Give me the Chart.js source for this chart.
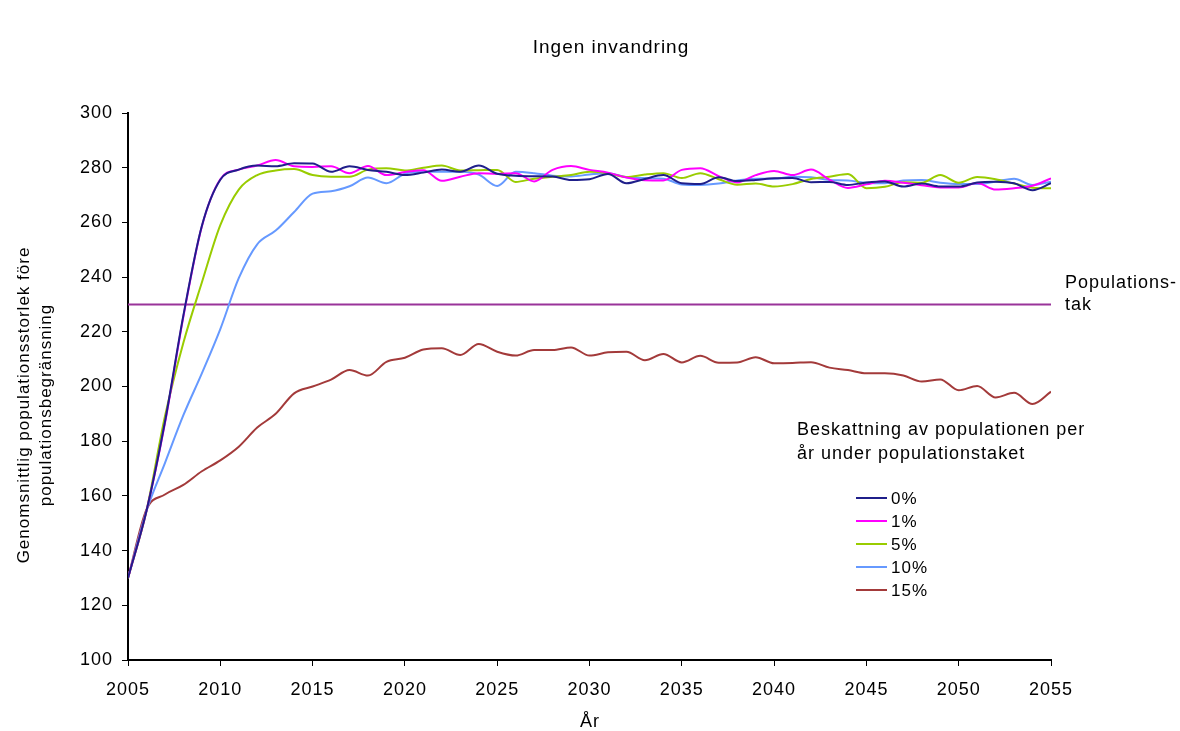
<!DOCTYPE html>
<html>
<head>
<meta charset="utf-8">
<title>Ingen invandring</title>
<script src="https://cdn.jsdelivr.net/npm/chart.js@4/dist/chart.umd.min.js"></script>
<style>
  html, body { margin: 0; padding: 0; background: #fff; }
  #wrap { width: 1180px; height: 731px; position: relative; }
</style>
</head>
<body>
<div id="wrap"><canvas id="chart"></canvas></div>
<script>
// --- data ----------------------------------------------------------------
const years = [2005, 2006, 2007, 2008, 2009, 2010, 2011, 2012, 2013, 2014,
  2015, 2016, 2017, 2018, 2019, 2020, 2021, 2022, 2023, 2024,
  2025, 2026, 2027, 2028, 2029, 2030, 2031, 2032, 2033, 2034,
  2035, 2036, 2037, 2038, 2039, 2040, 2041, 2042, 2043, 2044,
  2045, 2046, 2047, 2048, 2049, 2050, 2051, 2052, 2053, 2054, 2055];

const seriesLabels = ['0%', '1%', '5%', '10%', '15%'];

const harvest0 = [130, 154.5, 187, 226, 258.7, 275.6, 279.3, 280.8, 280.5, 281.6,
  281.5, 278.5, 280.5, 279.2, 278.5, 277.3, 278.2, 279.3, 278.5, 280.8,
  277.8, 277.1, 276.9, 276.8, 275.5, 275.8, 277.7, 274.3, 275.9, 277.3,
  274.3, 274, 276.5, 275.1, 275.5, 276.1, 276.2, 274.7, 274.8, 273.7,
  274.6, 275, 273.1, 274.2, 273.1, 273.1, 274.6, 274.9, 274.3, 271.8, 274.3];

const harvest1 = [130, 154.5, 186.5, 225.5, 258.5, 275.8, 279.3, 280.8, 282.8, 280.5,
  280.3, 280.5, 278, 280.6, 277.3, 278.4, 279.1, 275.2, 276.7, 278,
  277.7, 278, 275, 279.2, 280.6, 279.2, 278.2, 276.4, 275.4, 275.3,
  279.2, 279.8, 276.9, 274.6, 277.3, 278.8, 277.3, 279.3, 275.6, 272.6,
  273.9, 275.2, 274.5, 273.6, 272.8, 272.8, 274.4, 272, 272.5, 273.4, 276.1];

const harvest5 = [130, 154.5, 189, 216, 238, 259, 272, 277.3, 279, 279.5,
  277.3, 276.7, 276.7, 279.3, 279.8, 279, 280, 280.8, 279, 279.1,
  279.2, 274.8, 276, 276.7, 277.3, 278.5, 278, 276.6, 277.5, 278,
  276.2, 278, 275.8, 273.8, 274.2, 273.1, 274, 275.9, 276.7, 277.7,
  272.5, 273, 274.7, 274.5, 277.3, 274.5, 276.6, 275.8, 274.2, 272.7, 272.5];

const harvest10 = [130, 154.5, 172, 189.5, 204.8, 221, 239.6, 252, 257, 263.8,
  270.5, 271.4, 273.2, 276.4, 274.3, 277.8, 278.5, 278.5, 278.5, 277.5,
  273.3, 278.5, 278, 277.1, 276.8, 277.5, 278, 276.5, 276.2, 276,
  273.9, 273.7, 274.2, 275.3, 276, 276, 276.7, 276.5, 275.5, 275.3,
  274.5, 274.3, 275.3, 275.5, 274.5, 274, 274, 274.9, 276, 273.7, 274.9];

const harvest15 = [130, 155, 160.5, 164, 169, 173, 178, 185, 190, 197.5,
  200, 202.5, 206, 204, 209, 210.5, 213.5, 214, 211.5, 215.5,
  212.7, 211.3, 213.3, 213.3, 214.3, 211.3, 212.5, 212.7, 209.6, 211.9,
  208.8, 211.2, 208.7, 208.8, 210.7, 208.5, 208.6, 208.9, 206.9, 206,
  204.8, 204.8, 204, 201.8, 202.6, 198.6, 200.2, 196, 197.7, 193.6, 198.1];

const populationCap = 230;

const yTicks = { min: 100, max: 300, step: 20 };
const xTicks = { min: 2005, max: 2055, step: 5 };

// --- styling ---------------------------------------------------------------
const FONT = '"Liberation Sans", Arial, sans-serif';
const colors = ['#1f1f8a', '#ff00ff', '#99cc00', '#6699ff', '#a33a3a'];
const capColor = '#993399';

const allSeries = [harvest0, harvest1, harvest5, harvest10, harvest15];
const toPoints = vals => years.map((yr, i) => ({ x: yr, y: vals[i] }));

const datasets = allSeries.map((vals, i) => ({
  label: seriesLabels[i],
  data: toPoints(vals),
  borderColor: colors[i],
  borderWidth: 2,
  pointRadius: 0,
  fill: false,
  cubicInterpolationMode: 'monotone'
}));

datasets.push({
  label: 'Populationstak',
  data: years.map(yr => ({ x: yr, y: populationCap })),
  borderColor: capColor,
  borderWidth: 2,
  pointRadius: 0,
  fill: false
});

// texts, legend and letter spacing drawn on top of the chart
const textPlugin = {
  id: 'texts',
  beforeDraw(chart) {
    chart.ctx.letterSpacing = '1px';
  },
  afterDraw(chart) {
    const ctx = chart.ctx;
    ctx.save();
    ctx.letterSpacing = '1px';
    ctx.fillStyle = '#000';
    ctx.textBaseline = 'alphabetic';

    // title
    ctx.font = '19px ' + FONT;
    ctx.textAlign = 'center';
    ctx.fillText('Ingen invandring', 611, 53);

    // x axis title
    ctx.font = '18px ' + FONT;
    ctx.fillText('År', 590, 727);

    // y axis title (two lines, rotated)
    ctx.save();
    ctx.font = '17px ' + FONT;
    ctx.textBaseline = 'middle';
    ctx.translate(24, 405);
    ctx.rotate(-Math.PI / 2);
    ctx.fillText('Genomsnittlig populationsstorlek före', 0, 0);
    ctx.fillText('populationsbegränsning', 0, 22);
    ctx.restore();

    // cap label
    ctx.textAlign = 'left';
    ctx.font = '18px ' + FONT;
    ctx.fillText('Populations-', 1065, 288);
    ctx.fillText('tak', 1065, 310);

    // legend heading
    ctx.fillText('Beskattning av populationen per', 797, 435);
    ctx.fillText('år under populationstaket', 797, 459);

    // legend entries
    ctx.font = '17px ' + FONT;
    ctx.textBaseline = 'middle';
    seriesLabels.forEach((lab, i) => {
      const y = 498 + i * 23;
      ctx.strokeStyle = colors[i];
      ctx.lineWidth = 2;
      ctx.beginPath();
      ctx.moveTo(856, y);
      ctx.lineTo(887, y);
      ctx.stroke();
      ctx.fillText(lab, 891, y + 1);
    });
    ctx.restore();
  }
};

new Chart(document.getElementById('chart'), {
  type: 'line',
  data: { datasets },
  plugins: [textPlugin],
  options: {
    responsive: true,
    maintainAspectRatio: false,
    animation: false,
    devicePixelRatio: 1,
    layout: { padding: { top: 113, right: 129, left: 0, bottom: 0 } },
    plugins: {
      legend: { display: false },
      title: { display: false },
      tooltip: { enabled: false }
    },
    scales: {
      x: {
        type: 'linear',
        min: xTicks.min,
        max: xTicks.max,
        afterFit: s => { s.height = 71; },
        ticks: {
          stepSize: xTicks.step,
          color: '#000',
          padding: 13,
          maxRotation: 0,
          font: { family: FONT, size: 18 },
          callback: v => String(v)
        },
        grid: { drawOnChartArea: false, tickLength: 6, color: '#000', tickWidth: 1 },
        border: { color: '#000', width: 2 }
      },
      y: {
        min: yTicks.min,
        max: yTicks.max,
        afterFit: s => { s.width = 128; },
        ticks: {
          stepSize: yTicks.step,
          color: '#000',
          padding: 9,
          font: { family: FONT, size: 18 },
          callback: v => String(v)
        },
        grid: { drawOnChartArea: false, tickLength: 6, color: '#000', tickWidth: 1 },
        border: { color: '#000', width: 2 }
      }
    }
  }
});
</script>
</body>
</html>
